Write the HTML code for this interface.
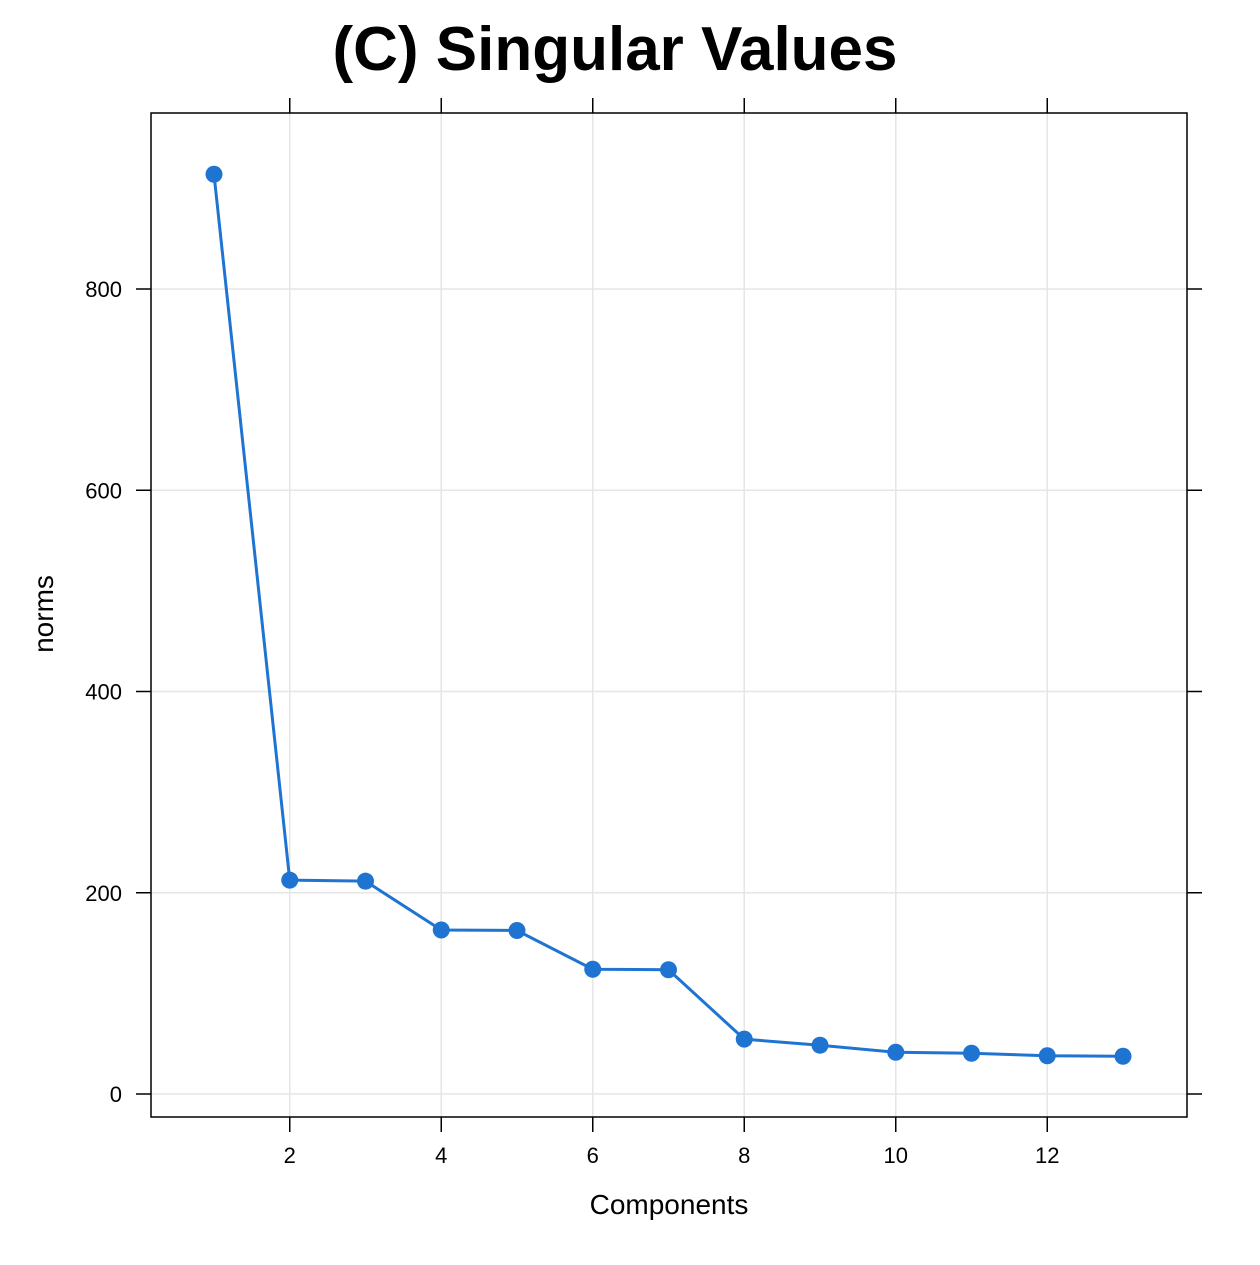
<!DOCTYPE html>
<html><head><meta charset="utf-8"><style>
body{margin:0;background:#fff}
svg text{font-family:"Liberation Sans",Arial,sans-serif}
</style></head><body>
<svg id="chart" width="1260" height="1260" viewBox="0 0 1260 1260">
<text x="615" y="70" text-anchor="middle" font-size="62" font-weight="bold">(C) Singular Values</text>
<g id="grid"></g>
<rect x="151" y="113" width="1036" height="1004" fill="none" stroke="#000" stroke-width="1.5"/>
<g id="axes"></g>
<g id="series"></g>
<text x="669" y="1214" text-anchor="middle" font-size="28">Components</text>
<text transform="translate(53,614) rotate(-90)" text-anchor="middle" font-size="28">norms</text>
</svg>
<script>
const components=[1,2,3,4,5,6,7,8,9,10,11,12,13];
const norms=[914,212.5,211.5,163,162.5,124,123.5,54.5,48.5,41.5,40.5,38,37.5];
const xTicks=[2,4,6,8,10,12];
const yTicks=[0,200,400,600,800];
const NS="http://www.w3.org/2000/svg";
const xs=v=>214+(v-1)*75.75;
const ys=v=>1094-v*1.00625;
function mk(tag,attrs,parent){const e=document.createElementNS(NS,tag);for(const k in attrs)e.setAttribute(k,attrs[k]);parent.appendChild(e);return e;}
const grid=document.getElementById('grid'),axes=document.getElementById('axes'),series=document.getElementById('series');
xTicks.forEach(t=>{const x=xs(t);
 let g=mk('line',{x1:x,x2:x,y1:113,y2:1117,stroke:'#e6e6e6','stroke-width':1.5},grid);
 
 
 let a=mk('line',{x1:x,x2:x,y1:1117,y2:1132,stroke:'#000','stroke-width':1.5},axes);
 
 
 let b=mk('line',{x1:x,x2:x,y1:98,y2:113,stroke:'#000','stroke-width':1.5},axes);
 
 
 let l=mk('text',{x:x,y:1163,'text-anchor':'middle','font-size':22},axes);l.textContent=t;
 
 
});
yTicks.forEach(t=>{const y=ys(t);
 let g=mk('line',{x1:151,x2:1187,y1:y,y2:y,stroke:'#e6e6e6','stroke-width':1.5},grid);
 
 
 let a=mk('line',{x1:136,x2:151,y1:y,y2:y,stroke:'#000','stroke-width':1.5},axes);
 
 
 let b=mk('line',{x1:1187,x2:1202,y1:y,y2:y,stroke:'#000','stroke-width':1.5},axes);
 
 
 let l=mk('text',{x:122,y:y+8,'text-anchor':'end','font-size':22},axes);l.textContent=t;
 
 
});
const pts=components.map((c,i)=>xs(c)+','+ys(norms[i])).join(' ');
let line=mk('polyline',{points:pts,fill:'none',stroke:'#1f74d2','stroke-width':3},series);


components.forEach((c,i)=>{
 let p=mk('circle',{cx:xs(c),cy:ys(norms[i]),r:8.5,fill:'#1f74d2'},series);
 
 
});
</script>
</body></html>
